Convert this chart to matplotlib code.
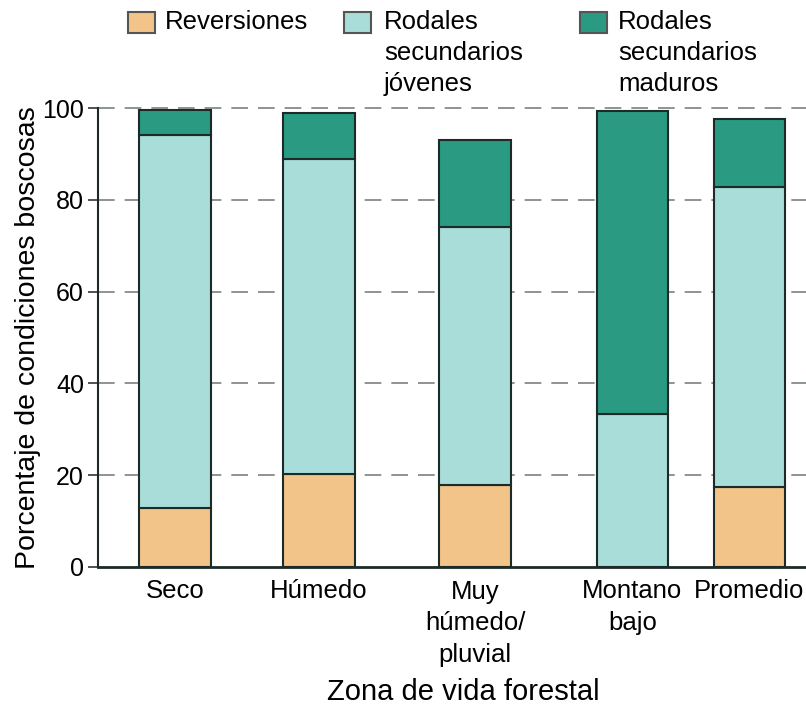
import matplotlib
matplotlib.use("Agg")
import matplotlib.pyplot as plt
from matplotlib.patches import Rectangle
import numpy as np

plt.rcParams['font.family'] = ['Liberation Sans', 'DejaVu Sans']

categories = ["Seco", "Húmedo", "Muy\nhúmedo/\npluvial", "Montano\nbajo", "Promedio"]
reversiones = [12.9, 20.3, 17.9, 0.0, 17.4]
jovenes = [81.2, 68.6, 56.2, 33.3, 65.4]
maduros = [5.5, 10.1, 18.9, 66.0, 14.8]
series_labels = ["Reversiones", "Rodales\nsecundarios\njóvenes", "Rodales\nsecundarios\nmaduros"]
colors = ["#F2C489", "#A8DDD9", "#2A9A82"]
yticks = [0, 20, 40, 60, 80, 100]

positions = [0.0, 0.96, 2.0, 3.05, 3.83]
edge = "#1c2a28"

fig = plt.figure(figsize=(8.06, 7.08), dpi=100)
ax = fig.add_axes([98/806, 1-567/708, 1-98/806, (567-108)/708])

for y in yticks[1:]:
    ax.axhline(y, color="#7a8080", lw=1.2, ls=(0, (10, 6)), zorder=0, clip_on=False)

bottom = np.zeros(len(categories))
for vals, c in zip([reversiones, jovenes, maduros], colors):
    ax.bar(positions, vals, width=0.475, bottom=bottom, color=c, edgecolor=edge,
           linewidth=1.5, zorder=2)
    bottom += np.array(vals)

ax.set_xlim(-0.513, 4.207)
ax.set_ylim(0, 100)
ax.set_yticks(yticks)
ax.set_xticks(positions)
ax.set_xticklabels(categories, fontsize=18.5, linespacing=1.4, va="top")
ax.tick_params(axis="x", length=0, pad=9)
ax.tick_params(axis="y", length=7, width=1.2, direction="out", labelsize=18, pad=3, color="#333333")
for s in ["top", "right"]:
    ax.spines[s].set_visible(False)
ax.spines["left"].set_linewidth(1.5)
ax.spines["left"].set_color(edge)
ax.spines["bottom"].set_linewidth(2)
ax.spines["bottom"].set_color(edge)

ax.set_ylabel("Porcentaje de condiciones boscosas", fontsize=20.5)
ax.yaxis.set_label_coords((41-98)/(806-98), 0.5)
fig.text(463/806, 1-692/708, "Zona de vida forestal", fontsize=21, ha="center", va="center")

# legend
handle_x = [128, 344, 580]
text_x = [165, 384, 618]
for hx, tx, c, lab in zip(handle_x, text_x, colors, series_labels):
    fig.patches.append(Rectangle((hx/806, 1-33/708), 27/806, 21/708, transform=fig.transFigure,
                                 facecolor=c, edgecolor="#555555", lw=1.5))
    fig.text(tx/806, 1-10/708, lab, fontsize=18.5, ha="left", va="top", linespacing=1.38)

fig.savefig("out.png", dpi=100)
